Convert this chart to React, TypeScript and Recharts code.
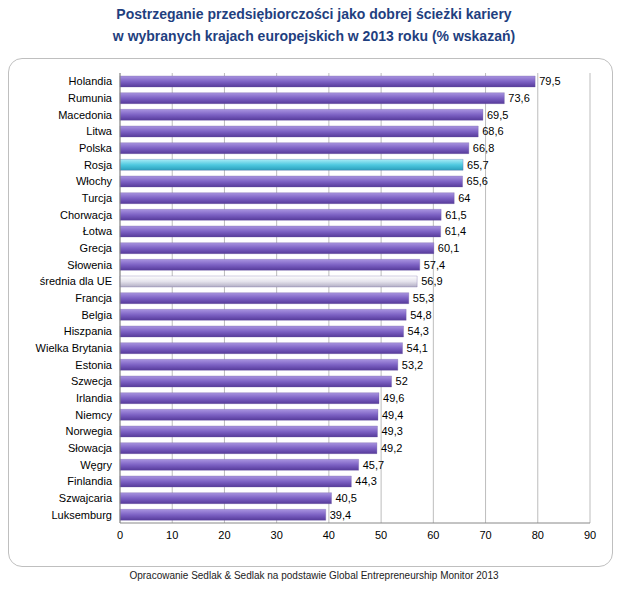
import { Bar, BarChart, CartesianGrid, Cell, LabelList, XAxis, YAxis } from 'recharts'

const COUNTRIES = [
  'Holandia', 'Rumunia', 'Macedonia', 'Litwa', 'Polska', 'Rosja', 'Włochy', 'Turcja',
  'Chorwacja', 'Łotwa', 'Grecja', 'Słowenia', 'średnia dla UE', 'Francja', 'Belgia',
  'Hiszpania', 'Wielka Brytania', 'Estonia', 'Szwecja', 'Irlandia', 'Niemcy', 'Norwegia',
  'Słowacja', 'Węgry', 'Finlandia', 'Szwajcaria', 'Luksemburg',
]
const VALUES = [
  79.5, 73.6, 69.5, 68.6, 66.8, 65.7, 65.6, 64, 61.5, 61.4, 60.1, 57.4, 56.9, 55.3, 54.8,
  54.3, 54.1, 53.2, 52, 49.6, 49.4, 49.3, 49.2, 45.7, 44.3, 40.5, 39.4,
]
const TICKS = [0, 10, 20, 30, 40, 50, 60, 70, 80, 90]

const data = COUNTRIES.map((name, i) => ({ name, value: VALUES[i] }))

const fillFor = (name: string) =>
  name === 'Rosja' ? 'url(#gCyan)' : name === 'średnia dla UE' ? 'url(#gGray)' : 'url(#gPurple)'

const FONT = '"Liberation Sans", Arial, sans-serif'

export default function App() {
  return (
    <div style={{ position: 'absolute', left: 0, top: 0, width: 628, height: 596, background: '#fff', fontFamily: FONT }}>
      <div style={{ position: 'absolute', top: 3, width: 628, textAlign: 'center', color: '#1f3f7f', fontWeight: 'bold', fontSize: 14, lineHeight: '22px' }}>
        Postrzeganie przedsiębiorczości jako dobrej ścieżki kariery<br />
        w wybranych krajach europejskich w 2013 roku (% wskazań)
      </div>
      <div style={{ position: 'absolute', left: 8, top: 58, width: 603, height: 507, border: '1px solid #bfbfbf', borderRadius: 14 }} />
      <div style={{ position: 'absolute', left: 0, top: 570, width: 628, textAlign: 'center', fontSize: 10, color: '#222' }}>
        Opracowanie Sedlak &amp; Sedlak na podstawie Global Entrepreneurship Monitor 2013
      </div>
      <div style={{ position: 'absolute', left: 0, top: 0 }}>
        <BarChart width={628} height={596} data={data} layout="vertical" barSize={11}
          margin={{ top: 73, right: 38, bottom: 43, left: 10 }}>
          <defs>
            <linearGradient id="gPurple" x1="0" y1="0" x2="0" y2="1">
              <stop offset="0" stopColor="#a994e0" />
              <stop offset="0.5" stopColor="#7d62c4" />
              <stop offset="1" stopColor="#563a9a" />
            </linearGradient>
            <linearGradient id="gCyan" x1="0" y1="0" x2="0" y2="1">
              <stop offset="0" stopColor="#a8ecf6" />
              <stop offset="0.5" stopColor="#4fc9e0" />
              <stop offset="1" stopColor="#2a9fbc" />
            </linearGradient>
            <linearGradient id="gGray" x1="0" y1="0" x2="0" y2="1">
              <stop offset="0" stopColor="#ffffff" />
              <stop offset="0.5" stopColor="#e4e2ec" />
              <stop offset="1" stopColor="#b2aec4" />
            </linearGradient>
          </defs>
          <CartesianGrid horizontal={false} stroke="#bdbdbd" />
          <XAxis type="number" domain={[0, 90]} ticks={TICKS} axisLine={{ stroke: '#888' }} tickLine={false}
            tick={{ fill: '#000', fontSize: 11, fontFamily: FONT }} height={30} />
          <YAxis type="category" dataKey="name" width={110} axisLine={{ stroke: '#888' }} tickLine={false}
            interval={0} tick={{ fill: '#000', fontSize: 11, fontFamily: FONT }} />
          <Bar dataKey="value" isAnimationActive={false}>
            {data.map((d) => (
              <Cell key={d.name} fill={fillFor(d.name)} stroke="#6a5aa0" strokeWidth={0.3} />
            ))}
            <LabelList dataKey="value" position="right" offset={4}
              formatter={(v: number) => String(v).replace('.', ',')}
              style={{ fill: '#000', fontSize: 11, fontFamily: FONT }} />
          </Bar>
        </BarChart>
      </div>
    </div>
  )
}
